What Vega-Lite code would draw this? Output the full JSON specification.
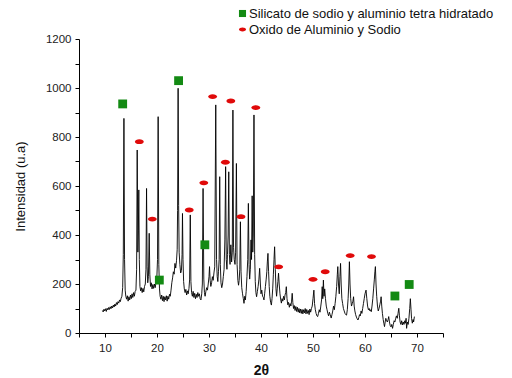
{
"$schema": "https://vega.github.io/schema/vega-lite/v6.json",
"width": 364, "height": 294,
"autosize": {"type": "none"},
"padding": {"left": 79, "top": 39, "right": 69, "bottom": 45},
"background": "white",
"config": {"view": {"stroke": null}, "font": "Liberation Sans",
 "axis": {"grid": false, "domainColor": "#000", "tickColor": "#000", "tickSize": 4, "labelColor": "#222", "labelFontSize": 11.5, "titleColor": "#111", "labelFont": "Liberation Sans", "titleFont": "Liberation Sans", "labelOverlap": false, "format": "d"}},
"datasets": {
"trace": [
{"t":9.5,"i":92},{"t":9.65,"i":86},{"t":9.8,"i":97},{"t":9.95,"i":90},{"t":10.1,"i":99},{"t":10.25,"i":88},{"t":10.4,"i":101},{"t":10.55,"i":94},{"t":10.7,"i":104},{"t":10.85,"i":96},{"t":11.0,"i":107},{"t":11.15,"i":99},{"t":11.3,"i":110},{"t":11.45,"i":102},{"t":11.6,"i":114},{"t":11.75,"i":106},{"t":11.9,"i":118},{"t":12.05,"i":110},{"t":12.2,"i":124},{"t":12.35,"i":116},{"t":12.5,"i":128},{"t":12.65,"i":122},{"t":12.8,"i":135},{"t":12.95,"i":128},{"t":13.1,"i":142},{"t":13.25,"i":150},{"t":13.4,"i":185},{"t":13.52,"i":320},{"t":13.64,"i":876},{"t":13.76,"i":300},{"t":13.88,"i":175},{"t":14.0,"i":150},{"t":14.15,"i":138},{"t":14.3,"i":152},{"t":14.45,"i":130},{"t":14.6,"i":148},{"t":14.75,"i":135},{"t":14.9,"i":155},{"t":15.05,"i":140},{"t":15.2,"i":160},{"t":15.35,"i":145},{"t":15.5,"i":165},{"t":15.65,"i":150},{"t":15.8,"i":170},{"t":15.95,"i":175},{"t":16.08,"i":260},{"t":16.19,"i":747},{"t":16.32,"i":330},{"t":16.42,"i":420},{"t":16.5,"i":584},{"t":16.6,"i":300},{"t":16.72,"i":190},{"t":16.85,"i":172},{"t":17.0,"i":185},{"t":17.15,"i":165},{"t":17.3,"i":182},{"t":17.45,"i":168},{"t":17.6,"i":190},{"t":17.75,"i":200},{"t":17.88,"i":260},{"t":17.99,"i":590},{"t":18.1,"i":270},{"t":18.22,"i":205},{"t":18.35,"i":230},{"t":18.5,"i":407},{"t":18.62,"i":240},{"t":18.75,"i":190},{"t":18.9,"i":205},{"t":19.05,"i":180},{"t":19.2,"i":198},{"t":19.35,"i":182},{"t":19.5,"i":200},{"t":19.65,"i":185},{"t":19.8,"i":205},{"t":19.95,"i":215},{"t":20.1,"i":300},{"t":20.22,"i":883},{"t":20.35,"i":280},{"t":20.48,"i":180},{"t":20.6,"i":150},{"t":20.75,"i":138},{"t":20.9,"i":155},{"t":21.05,"i":132},{"t":21.2,"i":150},{"t":21.35,"i":128},{"t":21.5,"i":148},{"t":21.65,"i":135},{"t":21.8,"i":152},{"t":21.95,"i":130},{"t":22.1,"i":150},{"t":22.25,"i":138},{"t":22.4,"i":158},{"t":22.55,"i":150},{"t":22.7,"i":175},{"t":22.85,"i":205},{"t":23.0,"i":225},{"t":23.15,"i":250},{"t":23.3,"i":240},{"t":23.45,"i":284},{"t":23.6,"i":265},{"t":23.75,"i":295},{"t":23.88,"i":340},{"t":23.96,"i":500},{"t":24.06,"i":999},{"t":24.16,"i":520},{"t":24.26,"i":330},{"t":24.4,"i":280},{"t":24.55,"i":245},{"t":24.7,"i":255},{"t":24.82,"i":320},{"t":24.9,"i":488},{"t":25.0,"i":300},{"t":25.12,"i":210},{"t":25.25,"i":180},{"t":25.4,"i":165},{"t":25.55,"i":178},{"t":25.7,"i":155},{"t":25.85,"i":172},{"t":26.0,"i":160},{"t":26.15,"i":182},{"t":26.28,"i":220},{"t":26.4,"i":482},{"t":26.52,"i":210},{"t":26.65,"i":165},{"t":26.8,"i":150},{"t":26.95,"i":170},{"t":27.1,"i":145},{"t":27.25,"i":162},{"t":27.4,"i":140},{"t":27.55,"i":158},{"t":27.7,"i":145},{"t":27.85,"i":165},{"t":28.0,"i":150},{"t":28.15,"i":160},{"t":28.3,"i":140},{"t":28.45,"i":135},{"t":28.6,"i":160},{"t":28.72,"i":200},{"t":28.86,"i":590},{"t":29.0,"i":220},{"t":29.12,"i":165},{"t":29.25,"i":150},{"t":29.4,"i":170},{"t":29.55,"i":185},{"t":29.7,"i":175},{"t":29.85,"i":200},{"t":30.0,"i":230},{"t":30.1,"i":271},{"t":30.22,"i":215},{"t":30.35,"i":190},{"t":30.5,"i":205},{"t":30.65,"i":230},{"t":30.8,"i":215},{"t":30.95,"i":245},{"t":31.1,"i":270},{"t":31.3,"i":931},{"t":31.45,"i":300},{"t":31.58,"i":230},{"t":31.7,"i":210},{"t":31.82,"i":250},{"t":31.95,"i":300},{"t":32.06,"i":638},{"t":32.18,"i":280},{"t":32.3,"i":205},{"t":32.45,"i":185},{"t":32.6,"i":200},{"t":32.75,"i":230},{"t":32.9,"i":260},{"t":33.05,"i":380},{"t":33.2,"i":679},{"t":33.32,"i":300},{"t":33.45,"i":260},{"t":33.55,"i":320},{"t":33.68,"i":400},{"t":33.8,"i":658},{"t":33.92,"i":320},{"t":34.05,"i":280},{"t":34.2,"i":360},{"t":34.35,"i":290},{"t":34.48,"i":330},{"t":34.6,"i":910},{"t":34.72,"i":350},{"t":34.85,"i":300},{"t":35.0,"i":280},{"t":35.12,"i":330},{"t":35.27,"i":692},{"t":35.4,"i":280},{"t":35.55,"i":215},{"t":35.68,"i":195},{"t":35.8,"i":215},{"t":35.92,"i":260},{"t":36.04,"i":454},{"t":36.16,"i":250},{"t":36.3,"i":185},{"t":36.45,"i":160},{"t":36.6,"i":140},{"t":36.73,"i":121},{"t":36.88,"i":150},{"t":37.0,"i":135},{"t":37.15,"i":170},{"t":37.3,"i":230},{"t":37.45,"i":300},{"t":37.57,"i":529},{"t":37.7,"i":280},{"t":37.82,"i":220},{"t":37.95,"i":260},{"t":38.08,"i":380},{"t":38.18,"i":300},{"t":38.3,"i":560},{"t":38.42,"i":330},{"t":38.52,"i":400},{"t":38.65,"i":890},{"t":38.78,"i":320},{"t":38.9,"i":210},{"t":39.02,"i":165},{"t":39.15,"i":148},{"t":39.3,"i":170},{"t":39.45,"i":190},{"t":39.6,"i":220},{"t":39.74,"i":264},{"t":39.88,"i":200},{"t":40.0,"i":160},{"t":40.15,"i":175},{"t":40.3,"i":150},{"t":40.45,"i":145},{"t":40.57,"i":135},{"t":40.7,"i":160},{"t":40.85,"i":190},{"t":41.0,"i":220},{"t":41.12,"i":250},{"t":41.22,"i":290},{"t":41.34,"i":325},{"t":41.46,"i":250},{"t":41.58,"i":190},{"t":41.7,"i":150},{"t":41.85,"i":125},{"t":42.0,"i":114},{"t":42.12,"i":140},{"t":42.25,"i":180},{"t":42.38,"i":240},{"t":42.5,"i":300},{"t":42.62,"i":352},{"t":42.75,"i":260},{"t":42.88,"i":180},{"t":43.0,"i":150},{"t":43.12,"i":180},{"t":43.25,"i":210},{"t":43.37,"i":244},{"t":43.5,"i":200},{"t":43.65,"i":160},{"t":43.8,"i":135},{"t":43.92,"i":122},{"t":44.05,"i":140},{"t":44.2,"i":130},{"t":44.35,"i":150},{"t":44.5,"i":135},{"t":44.62,"i":155},{"t":44.75,"i":165},{"t":44.87,"i":189},{"t":45.0,"i":140},{"t":45.15,"i":115},{"t":45.3,"i":125},{"t":45.45,"i":105},{"t":45.6,"i":120},{"t":45.75,"i":110},{"t":45.88,"i":130},{"t":46.0,"i":162},{"t":46.12,"i":125},{"t":46.25,"i":100},{"t":46.4,"i":112},{"t":46.55,"i":92},{"t":46.7,"i":108},{"t":46.85,"i":88},{"t":47.0,"i":105},{"t":47.15,"i":85},{"t":47.3,"i":100},{"t":47.45,"i":82},{"t":47.6,"i":98},{"t":47.75,"i":80},{"t":47.9,"i":96},{"t":48.05,"i":78},{"t":48.2,"i":95},{"t":48.35,"i":82},{"t":48.5,"i":100},{"t":48.65,"i":78},{"t":48.8,"i":96},{"t":48.95,"i":80},{"t":49.1,"i":92},{"t":49.25,"i":75},{"t":49.4,"i":98},{"t":49.55,"i":85},{"t":49.7,"i":100},{"t":49.85,"i":110},{"t":50.0,"i":140},{"t":50.17,"i":175},{"t":50.3,"i":120},{"t":50.45,"i":95},{"t":50.6,"i":80},{"t":50.75,"i":70},{"t":50.9,"i":67},{"t":51.05,"i":80},{"t":51.2,"i":95},{"t":51.35,"i":85},{"t":51.5,"i":110},{"t":51.65,"i":135},{"t":51.77,"i":189},{"t":51.88,"i":140},{"t":52.0,"i":216},{"t":52.12,"i":150},{"t":52.25,"i":180},{"t":52.4,"i":140},{"t":52.55,"i":110},{"t":52.7,"i":95},{"t":52.85,"i":80},{"t":53.0,"i":70},{"t":53.15,"i":85},{"t":53.3,"i":75},{"t":53.5,"i":61},{"t":53.65,"i":75},{"t":53.8,"i":90},{"t":53.95,"i":110},{"t":54.1,"i":95},{"t":54.25,"i":120},{"t":54.4,"i":150},{"t":54.55,"i":190},{"t":54.68,"i":240},{"t":54.77,"i":271},{"t":54.9,"i":200},{"t":55.05,"i":160},{"t":55.18,"i":230},{"t":55.3,"i":284},{"t":55.42,"i":200},{"t":55.55,"i":140},{"t":55.7,"i":120},{"t":55.85,"i":100},{"t":56.0,"i":90},{"t":56.15,"i":80},{"t":56.3,"i":75},{"t":56.45,"i":73},{"t":56.6,"i":95},{"t":56.75,"i":140},{"t":56.88,"i":200},{"t":57.0,"i":291},{"t":57.12,"i":200},{"t":57.25,"i":140},{"t":57.4,"i":110},{"t":57.55,"i":120},{"t":57.68,"i":130},{"t":57.8,"i":148},{"t":57.92,"i":110},{"t":58.05,"i":90},{"t":58.2,"i":75},{"t":58.35,"i":65},{"t":58.5,"i":58},{"t":58.65,"i":53},{"t":58.8,"i":62},{"t":58.95,"i":75},{"t":59.1,"i":70},{"t":59.25,"i":90},{"t":59.4,"i":80},{"t":59.55,"i":100},{"t":59.7,"i":120},{"t":59.85,"i":140},{"t":60.0,"i":160},{"t":60.2,"i":175},{"t":60.35,"i":140},{"t":60.5,"i":110},{"t":60.65,"i":95},{"t":60.8,"i":100},{"t":60.95,"i":90},{"t":61.1,"i":95},{"t":61.2,"i":87},{"t":61.35,"i":110},{"t":61.5,"i":140},{"t":61.65,"i":180},{"t":61.8,"i":220},{"t":61.9,"i":250},{"t":62.0,"i":271},{"t":62.12,"i":200},{"t":62.25,"i":150},{"t":62.4,"i":110},{"t":62.55,"i":90},{"t":62.7,"i":100},{"t":62.85,"i":115},{"t":63.0,"i":130},{"t":63.1,"i":148},{"t":63.22,"i":110},{"t":63.35,"i":80},{"t":63.5,"i":55},{"t":63.62,"i":40},{"t":63.75,"i":26},{"t":63.88,"i":45},{"t":64.0,"i":60},{"t":64.15,"i":50},{"t":64.3,"i":45},{"t":64.45,"i":55},{"t":64.56,"i":67},{"t":64.7,"i":45},{"t":64.85,"i":30},{"t":65.0,"i":25},{"t":65.15,"i":35},{"t":65.3,"i":19},{"t":65.45,"i":35},{"t":65.6,"i":50},{"t":65.75,"i":45},{"t":65.9,"i":60},{"t":66.05,"i":70},{"t":66.2,"i":60},{"t":66.35,"i":80},{"t":66.5,"i":101},{"t":66.62,"i":70},{"t":66.75,"i":45},{"t":66.9,"i":35},{"t":67.05,"i":50},{"t":67.2,"i":33},{"t":67.35,"i":45},{"t":67.5,"i":35},{"t":67.65,"i":50},{"t":67.78,"i":40},{"t":67.9,"i":60},{"t":68.0,"i":19},{"t":68.15,"i":45},{"t":68.3,"i":35},{"t":68.45,"i":60},{"t":68.6,"i":100},{"t":68.72,"i":140},{"t":68.85,"i":95},{"t":68.95,"i":60},{"t":69.1,"i":40},{"t":69.25,"i":55},{"t":69.35,"i":45},{"t":69.5,"i":67}
],
"marks": [
{"t":13.4,"i":935,"phase":"Silicato de sodio y aluminio tetra hidratado"},
{"t":20.45,"i":216,"phase":"Silicato de sodio y aluminio tetra hidratado"},
{"t":24.15,"i":1030,"phase":"Silicato de sodio y aluminio tetra hidratado"},
{"t":29.2,"i":360,"phase":"Silicato de sodio y aluminio tetra hidratado"},
{"t":65.75,"i":151,"phase":"Silicato de sodio y aluminio tetra hidratado"},
{"t":68.5,"i":198,"phase":"Silicato de sodio y aluminio tetra hidratado"},
{"t":16.6,"i":781,"phase":"Oxido de Aluminio y Sodio"},
{"t":19.1,"i":465,"phase":"Oxido de Aluminio y Sodio"},
{"t":26.2,"i":502,"phase":"Oxido de Aluminio y Sodio"},
{"t":29.0,"i":613,"phase":"Oxido de Aluminio y Sodio"},
{"t":30.7,"i":965,"phase":"Oxido de Aluminio y Sodio"},
{"t":33.15,"i":697,"phase":"Oxido de Aluminio y Sodio"},
{"t":34.2,"i":947,"phase":"Oxido de Aluminio y Sodio"},
{"t":36.15,"i":475,"phase":"Oxido de Aluminio y Sodio"},
{"t":39.0,"i":920,"phase":"Oxido de Aluminio y Sodio"},
{"t":43.4,"i":270,"phase":"Oxido de Aluminio y Sodio"},
{"t":50.0,"i":219,"phase":"Oxido de Aluminio y Sodio"},
{"t":52.35,"i":250,"phase":"Oxido de Aluminio y Sodio"},
{"t":57.15,"i":316,"phase":"Oxido de Aluminio y Sodio"},
{"t":61.25,"i":312,"phase":"Oxido de Aluminio y Sodio"}
]
},
"encoding": {
  "x": {"field": "t", "type": "quantitative", "scale": {"domain": [5, 75], "nice": false, "zero": false},
   "axis": {"values": [5,10,15,20,25,30,35,40,45,50,55,60,65,70,75], "labelExpr": "datum.value % 10 == 0 ? datum.label : ''", "labelOverlap": false, "labelFlush": false, "labelPadding": 5, "title": "2θ", "titleFontSize": 14, "titleFontWeight": "bold", "titlePadding": 10}},
  "y": {"field": "i", "type": "quantitative", "scale": {"domain": [0, 1200], "nice": false},
   "axis": {"values": [0,100,200,300,400,500,600,700,800,900,1000,1100,1200], "labelExpr": "datum.value % 200 == 0 ? datum.label : ''", "labelOverlap": false, "labelPadding": 4, "title": "Intensidad (u.a)", "titleFontSize": 13, "titleFontWeight": "normal", "titlePadding": 18}}
},
"layer": [
{"data": {"name": "trace"},
 "mark": {"type": "line", "color": "#000000", "strokeWidth": 0.9}},
{"data": {"name": "marks"},
 "mark": {"type": "point", "filled": true, "opacity": 1, "size": 78},
 "encoding": {
  "color": {"field": "phase", "type": "nominal",
   "scale": {"domain": ["Silicato de sodio y aluminio tetra hidratado", "Oxido de Aluminio y Sodio"], "range": ["#138a13", "#e00a0a"]},
   "legend": {"title": null, "orient": "none", "legendX": 157, "legendY": -32, "padding": 0, "labelFontSize": 13, "labelColor": "#111", "labelLimit": 400, "symbolSize": 50, "rowPadding": 2, "labelOffset": 0, "symbolOpacity": 1}},
  "shape": {"field": "phase", "type": "nominal",
   "scale": {"domain": ["Silicato de sodio y aluminio tetra hidratado", "Oxido de Aluminio y Sodio"], "range": ["square", "M-1,0A1,0.55 0 1,0 1,0A1,0.55 0 1,0 -1,0Z"]},
   "legend": {"title": null, "orient": "none", "legendX": 157, "legendY": -32, "padding": 0, "labelFontSize": 13, "labelColor": "#111", "labelLimit": 400, "symbolSize": 50, "rowPadding": 2, "labelOffset": 0, "symbolOpacity": 1}}
 }}
]
}
